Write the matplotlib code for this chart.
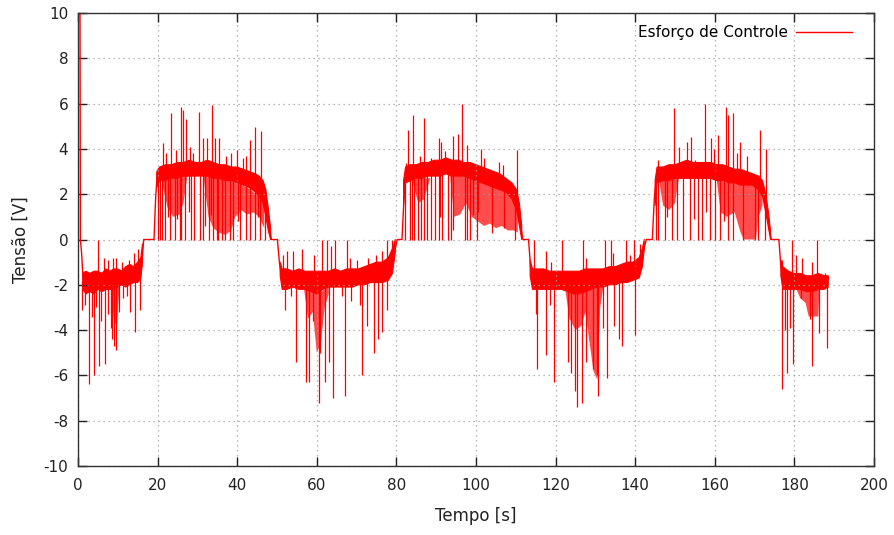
import numpy as np
import matplotlib.pyplot as plt

GAP = (np.nan, np.nan, np.nan)
BREAK = (np.nan, np.nan)

# skeleton of the signal: start transient, zero plateaus and transitions
track = [(0.5, 10.5), (0.6, 0.0), (0.9, -0.6), (1.3, -1.8), BREAK,
         (16.0, -1.2), (16.5, 0.0), (19.1, 0.0), (19.5, 1.8), (19.9, 2.9), BREAK,
         (48.0, 0.6), (48.6, 0.0), (50.1, 0.0), (50.6, -1.0), (51.2, -1.8), BREAK,
         (79.6, -0.5), (80.2, 0.0), (81.4, 0.0), (81.9, 1.8), (82.4, 2.9), BREAK,
         (111.2, 0.6), (111.8, 0.0), (113.2, 0.0), (113.7, -1.2), (114.2, -1.8), BREAK,
         (142.2, -0.4), (142.8, 0.0), (144.3, 0.0), (144.8, 1.8), (145.4, 2.9), BREAK,
         (173.6, 0.6), (174.2, 0.0), (176.1, 0.0), (176.6, -1.2), (177.1, -1.8), BREAK,
         (188.2, -1.9), (188.6, -1.7)]

# dense noise band (t, low, high)
band = [
    (1.2, -2.2, -1.5), (2.0, -2.4, -1.4), (3.0, -2.3, -1.5), (4.0, -2.4, -1.4), (5.0, -2.2, -1.4),
    (6.0, -2.3, -1.5), (7.0, -2.2, -1.3), (8.0, -2.2, -1.4), (9.0, -2.2, -1.3), (10.0, -2.1, -1.3),
    (11.0, -2.0, -1.4), (12.0, -2.1, -1.2), (13.0, -2.0, -1.1), (14.0, -1.9, -1.2), (15.0, -1.9, -1.0),
    (15.8, -1.7, -0.8), (16.2, -1.0, -0.2), GAP,
    (19.8, 2.3, 3.0), (20.5, 2.6, 3.2), (22.0, 2.6, 3.3), (23.5, 2.7, 3.3), (25.0, 2.7, 3.4),
    (26.5, 2.8, 3.4), (28.0, 2.8, 3.5), (29.5, 2.8, 3.4), (31.0, 2.8, 3.4), (32.5, 2.8, 3.5),
    (34.0, 2.7, 3.4), (35.5, 2.7, 3.3), (37.0, 2.6, 3.3), (38.5, 2.6, 3.2), (40.0, 2.5, 3.2),
    (41.5, 2.4, 3.1), (43.0, 2.3, 3.0), (44.5, 2.1, 2.9), (45.5, 1.9, 2.8), (46.5, 1.6, 2.6),
    (47.2, 1.0, 2.2), (47.8, 0.4, 1.4), (48.4, 0.0, 0.5), GAP,
    (50.8, -1.6, -1.0), (51.3, -2.2, -1.3), (52.5, -2.2, -1.3), (54.0, -2.1, -1.4), (55.5, -2.2, -1.3),
    (57.0, -2.2, -1.4), (58.5, -2.3, -1.4), (60.0, -2.4, -1.4), (61.5, -2.2, -1.4), (63.0, -2.1, -1.4),
    (64.5, -2.1, -1.3), (66.0, -2.1, -1.4), (67.5, -2.1, -1.3), (69.0, -2.1, -1.3), (70.5, -2.0, -1.3),
    (72.0, -2.0, -1.2), (73.5, -1.9, -1.1), (75.0, -1.9, -1.0), (76.5, -1.9, -1.0), (78.0, -1.8, -0.8),
    (79.0, -1.5, -0.4), (79.7, -0.6, 0.0), GAP,
    (81.8, 1.5, 2.6), (82.3, 2.5, 3.2), (83.5, 2.6, 3.3), (85.0, 2.7, 3.3), (86.5, 2.7, 3.4),
    (88.0, 2.8, 3.4), (89.5, 2.8, 3.5), (91.0, 2.8, 3.5), (92.5, 2.9, 3.6), (94.0, 2.8, 3.5),
    (95.5, 2.8, 3.5), (97.0, 2.8, 3.4), (98.5, 2.7, 3.4), (100.0, 2.6, 3.3), (101.5, 2.5, 3.2),
    (103.0, 2.4, 3.1), (104.5, 2.3, 3.0), (106.0, 2.2, 2.9), (107.5, 2.1, 2.7), (109.0, 1.8, 2.5),
    (110.2, 1.3, 2.2), (110.9, 0.6, 1.6), (111.5, 0.0, 0.6), GAP,
    (113.6, -1.6, -0.9), (114.2, -2.2, -1.3), (115.5, -2.2, -1.3), (117.0, -2.2, -1.3), (118.5, -2.2, -1.4),
    (120.0, -2.2, -1.4), (121.5, -2.2, -1.4), (123.0, -2.3, -1.4), (124.5, -2.4, -1.4), (126.0, -2.4, -1.4),
    (127.5, -2.3, -1.3), (129.0, -2.2, -1.3), (130.5, -2.1, -1.3), (132.0, -2.1, -1.3), (133.5, -2.0, -1.2),
    (135.0, -2.0, -1.2), (136.5, -1.9, -1.1), (138.0, -1.9, -1.0), (139.5, -1.8, -1.0), (141.0, -1.7, -0.8),
    (141.8, -1.2, -0.4), (142.3, -0.4, 0.0), GAP,
    (145.0, 1.5, 2.6), (145.5, 2.5, 3.2), (147.0, 2.6, 3.2), (148.5, 2.6, 3.3), (150.0, 2.7, 3.3),
    (151.5, 2.7, 3.4), (153.0, 2.7, 3.5), (154.5, 2.7, 3.4), (156.0, 2.7, 3.4), (157.5, 2.7, 3.4),
    (159.0, 2.7, 3.4), (160.5, 2.6, 3.3), (162.0, 2.6, 3.3), (163.5, 2.5, 3.2), (165.0, 2.5, 3.1),
    (166.5, 2.4, 3.1), (168.0, 2.4, 3.0), (169.5, 2.4, 2.9), (171.0, 2.2, 2.8), (172.0, 1.9, 2.6),
    (172.8, 1.2, 2.0), (173.5, 0.5, 1.2), (174.0, 0.0, 0.4), GAP,
    (176.6, -1.6, -0.9), (177.1, -2.2, -1.2), (178.5, -2.2, -1.4), (180.0, -2.2, -1.5), (181.5, -2.2, -1.5),
    (183.0, -2.3, -1.6), (184.5, -2.3, -1.6), (186.0, -2.2, -1.5), (187.5, -2.2, -1.6), (188.5, -2.1, -1.6),
]

# darker regions where the spikes are packed together (t, low, high)
deep = [
    (8.4, -2.2, -2.2), (9.0, -3.6, -2.2), (9.8, -3.8, -2.1), (10.4, -2.1, -2.1), GAP,
    (21.0, 2.6, 2.6), (22.5, 1.4, 2.6), (24.0, 1.0, 2.7), (25.5, 1.1, 2.7), (26.5, 1.6, 2.8), (27.5, 2.8, 2.8), GAP,
    (31.5, 2.8, 2.8), (32.8, 1.0, 2.8), (34.0, 0.5, 2.7), (35.5, 0.3, 2.7), (37.0, 0.2, 2.6), (38.5, 0.4, 2.6),
    (39.5, 1.0, 2.5), (41.0, 1.3, 2.4), (42.5, 1.1, 2.3), (44.0, 1.2, 2.1), (45.5, 1.0, 1.9), (46.8, 0.5, 1.5), GAP,
    (56.8, -2.2, -2.2), (57.8, -3.5, -2.2), (59.0, -3.2, -2.3), (60.0, -5.0, -2.4), (61.0, -4.6, -2.3),
    (62.0, -3.0, -2.2), (63.0, -2.4, -2.1), GAP,
    (84.0, 2.6, 2.6), (85.5, 1.6, 2.7), (87.0, 1.8, 2.7), (88.5, 2.7, 2.7), GAP,
    (93.5, 2.8, 2.8), (94.5, 1.0, 2.8), (96.0, 1.1, 2.8), (97.5, 1.6, 2.8), (99.0, 1.0, 2.7), (100.5, 0.8, 2.6),
    (102.0, 0.6, 2.5), (103.5, 0.7, 2.4), (105.0, 0.5, 2.3), (106.5, 0.6, 2.2), (108.0, 0.4, 2.1),
    (109.5, 0.4, 1.8), (110.5, 0.3, 1.3), GAP,
    (122.5, -2.3, -2.3), (123.5, -3.5, -2.3), (125.0, -4.0, -2.4), (126.5, -3.8, -2.4), (127.5, -3.2, -2.3),
    (128.5, -4.5, -2.2), (129.5, -5.8, -2.2), (130.5, -6.2, -2.1), (131.2, -3.0, -2.1), (132.0, -2.1, -2.1), GAP,
    (146.0, 2.6, 2.6), (147.0, 1.5, 2.6), (148.5, 1.3, 2.6), (150.0, 1.6, 2.7), (151.0, 2.7, 2.7), GAP,
    (160.5, 2.6, 2.6), (161.5, 1.2, 2.6), (163.0, 1.0, 2.5), (165.0, 1.2, 2.5), (166.5, 0.3, 2.4),
    (167.3, 0.0, 2.4), (170.3, 0.0, 2.4), (171.0, 1.0, 2.2), (172.0, 1.5, 1.9), GAP,
    (180.5, -2.2, -2.2), (181.5, -2.6, -2.2), (182.8, -2.8, -2.3), (183.6, -3.4, -2.3), (186.0, -3.4, -2.2),
    (186.3, -2.2, -2.2),
]

spikes_up = [
    (5.1, 0.0), (6.5, -0.8), (7.6, -0.9), (8.8, -0.8), (9.6, -0.8), (11.0, -1.0), (12.8, -0.9), (14.0, -0.6), (15.2, -0.4),
    (21.4, 4.25), (22.0, 3.8), (23.4, 5.6), (24.6, 3.95), (25.9, 5.86), (26.3, 5.7), (27.2, 5.3), (28.2, 4.1),
    (29.0, 3.8), (30.5, 5.64), (31.3, 4.47), (32.3, 4.5), (33.6, 5.94), (34.5, 4.47), (35.5, 4.47), (37.3, 3.7),
    (38.5, 3.8), (40.0, 3.95), (41.4, 3.6), (42.2, 3.7), (43.2, 4.4), (44.5, 4.95), (45.9, 4.8),
    (51.6, -0.7), (52.4, -0.5), (53.9, -0.5), (56.4, -0.4), (59.3, -0.7), (61.2, 0.0), (62.5, 0.0), (63.5, -0.3),
    (64.6, 0.0), (67.5, 0.0), (68.3, -0.8), (70.2, -0.9), (72.8, -0.8), (74.9, -0.7), (76.3, -0.5), (77.6, 0.0), (78.8, 0.0),
    (82.3, 3.36), (83.0, 4.85), (84.2, 5.5), (85.9, 3.7), (87.0, 5.35), (88.8, 3.6), (90.7, 4.47), (91.1, 4.3),
    (92.3, 3.9), (94.3, 4.55), (95.5, 4.65), (96.6, 6.0), (97.7, 4.17), (101.3, 4.0), (102.0, 3.6), (105.9, 3.4),
    (106.7, 3.3), (110.4, 3.95),
    (114.6, 0.0), (117.6, -0.5), (118.8, -1.0), (121.5, 0.0), (127.0, 0.0), (127.7, -0.8), (132.5, 0.0), (133.8, 0.0),
    (134.3, -0.6), (137.7, 0.0), (138.7, -0.7), (139.6, 0.0), (141.2, -0.2),
    (145.8, 3.5), (149.7, 5.8), (151.1, 4.1), (152.9, 4.3), (153.9, 4.54), (155.0, 3.5), (157.5, 6.0), (159.0, 4.47),
    (159.8, 4.0), (160.9, 4.6), (162.8, 5.86), (163.2, 5.5), (164.6, 5.57), (165.5, 3.8), (166.4, 4.3), (168.0, 3.7),
    (171.4, 4.83), (172.9, 4.0),
    (177.0, -0.9), (179.4, 0.0), (180.4, -0.7), (181.8, -0.8), (184.3, -1.0), (185.8, 0.0), (187.6, -1.5),
]

spikes_down = [
    (0.9, -3.1), (1.7, -2.9), (2.8, -6.4), (3.4, -3.4), (4.1, -6.0), (4.6, -3.0), (5.3, -5.6), (5.9, -3.6),
    (6.8, -5.5), (7.5, -3.3), (8.2, -3.9), (8.6, -4.4), (9.0, -4.7), (9.6, -4.9), (10.4, -3.2), (11.4, -2.6),
    (12.3, -2.5), (13.0, -3.2), (14.2, -4.1), (15.5, -3.1),
    (20.0, 0.0), (20.6, 0.0), (21.1, 0.0), (21.9, 0.0), (22.5, 1.0), (23.1, 0.0), (24.3, 0.0), (24.8, 0.9),
    (25.6, 0.0), (26.0, 0.0), (27.0, 0.0), (27.8, 1.2), (28.5, 0.0), (29.2, 0.0), (30.6, 0.0), (31.5, 0.0),
    (32.0, 0.6), (33.0, 0.0), (33.5, 1.1), (34.0, 0.0), (34.9, 0.0), (35.3, 0.0), (36.2, 0.0), (37.0, 0.0),
    (38.2, 0.0), (39.0, 0.0), (40.3, 0.8), (40.8, 0.0), (42.3, 0.0), (43.2, 0.0), (44.4, 0.0), (45.2, 1.0),
    (45.7, 0.0), (47.0, 0.0),
    (52.0, -3.1), (53.5, -2.5), (54.8, -5.4), (57.3, -6.3), (58.0, -6.3), (59.1, -3.6), (60.5, -7.2), (60.9, -5.0),
    (62.1, -6.3), (63.1, -5.4), (64.0, -7.0), (66.3, -2.5), (67.2, -6.9), (68.5, -2.7), (70.9, -2.9), (71.4, -6.0),
    (72.5, -3.8), (74.4, -5.0), (75.5, -4.4), (76.3, -4.1), (77.7, -3.1),
    (82.2, 0.0), (83.4, 0.0), (83.9, 0.0), (84.5, 0.0), (85.5, 0.0), (86.3, 0.0), (86.9, 0.0), (87.6, 0.0),
    (88.7, 0.0), (89.7, 0.0), (90.7, 0.0), (91.0, 1.0), (91.5, 0.0), (93.0, 0.0), (93.6, 0.0), (94.3, 0.4),
    (97.2, 0.0), (97.7, 0.0), (98.5, 0.0), (99.3, 1.1), (100.2, 0.0), (100.5, 1.2), (104.0, 0.3), (107.0, 0.5),
    (109.8, 0.0),
    (115.1, -3.3), (115.4, -5.7), (117.6, -5.1), (118.6, -2.9), (119.7, -6.3), (123.0, -5.4), (123.8, -5.9),
    (124.9, -6.7), (125.5, -7.4), (126.7, -7.2), (127.7, -5.4), (129.4, -5.7), (130.3, -6.0), (130.7, -6.9),
    (131.8, -3.9), (133.0, -6.1), (134.6, -3.8), (135.9, -4.4), (136.6, -4.7), (140.0, -4.2),
    (145.2, 0.0), (145.8, 0.0), (147.5, 0.0), (148.0, 1.0), (149.3, 0.0), (150.6, 0.0), (152.1, 0.0), (153.8, 0.0),
    (154.8, 0.9), (155.9, 0.0), (156.7, 0.0), (157.8, 1.2), (158.8, 0.0), (160.1, 0.0), (161.3, 0.0), (162.2, 0.8),
    (163.4, 0.0), (164.6, 0.0), (167.2, 0.0), (170.1, 0.0), (170.9, 0.0), (172.5, 0.0),
    (176.8, -6.6), (177.6, -4.0), (178.2, -5.9), (179.0, -3.9), (179.7, -5.5), (181.6, -2.6), (183.8, -3.5),
    (184.3, -5.6), (186.2, -4.15), (188.3, -4.8),
]

x_ticks = np.arange(0, 201, 20)
y_ticks = np.arange(-10, 11, 2)
red = '#ff0000'

plt.rcParams['font.family'] = ['DejaVu Sans']
plt.rcParams['axes.unicode_minus'] = False
fig = plt.figure(figsize=(8.94, 5.35), dpi=100)
ax = fig.add_axes([78 / 894, 1 - 466 / 535, (874 - 78) / 894, (466 - 13) / 535])

trk = np.array(track, dtype=float)
line, = ax.plot(trk[:, 0], trk[:, 1], color=red, lw=1.0, label='Esforço de Controle')

b = np.array(band, dtype=float)
ax.fill_between(b[:, 0], b[:, 1], b[:, 2], facecolor=red, edgecolor=red, lw=0.8)

d = np.array(deep, dtype=float)
ax.fill_between(d[:, 0], d[:, 1], d[:, 2], facecolor=red, edgecolor='none', alpha=0.7)

ok = ~np.isnan(b[:, 0])
mid = (b[ok, 1] + b[ok, 2]) / 2
for spikes in (spikes_up, spikes_down):
    s = np.array(spikes)
    foot = np.interp(s[:, 0], b[ok, 0], mid)
    ax.vlines(s[:, 0], foot, s[:, 1], color=red, lw=0.9)

ax.set_xlim(0, 200)
ax.set_ylim(-10, 10)
ax.set_xticks(x_ticks)
ax.set_yticks(y_ticks)
ax.tick_params(direction='in', top=True, right=True, length=6.5, width=1, labelsize=11, colors='#222222')
ax.tick_params(axis='x', pad=9)
ax.tick_params(axis='y', pad=7)
ax.grid(True, color='#a0a0a0', linestyle=(0, (1, 3)), lw=0.9)
for sp in ax.spines.values():
    sp.set_color('#333333')
    sp.set_linewidth(1)

ax.set_xlabel('Tempo [s]', fontsize=12, color='#222222', labelpad=10)
ax.set_ylabel('Tensão [V]', fontsize=12, color='#222222', labelpad=10)

ax.legend(handles=[line], loc='upper right', frameon=False, markerfirst=False,
          handlelength=3.7, handletextpad=0.5, fontsize=11, borderaxespad=0.4,
          bbox_to_anchor=(0.988, 1.0))

fig.savefig('out.png', dpi=100)
